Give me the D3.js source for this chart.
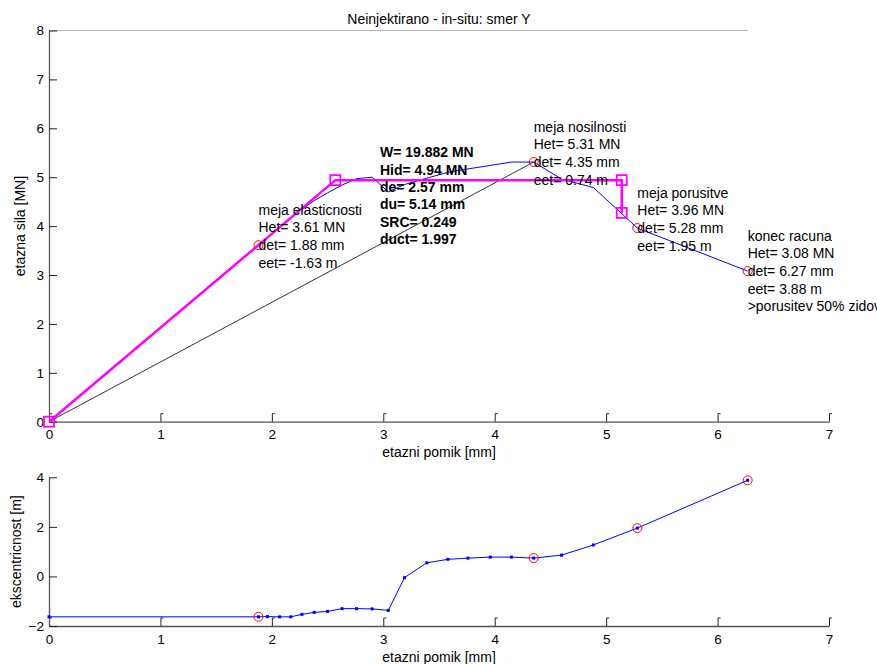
<!DOCTYPE html>
<html>
<head>
<meta charset="utf-8">
<script src="https://cdn.jsdelivr.net/npm/d3@7"></script>
<style>
  html, body { margin: 0; padding: 0; background: #fff; }
  svg { display: block; font-family: "Liberation Sans", Arial, sans-serif; }
</style>
</head>
<body>
<svg id="chart" width="877" height="664"></svg>
<script>
// ---- data ----
const dispX  = [0, 1.88, 1.96, 2.07, 2.17, 2.27, 2.38, 2.50, 2.63, 2.76, 2.90, 3.045, 3.19, 3.39, 3.58, 3.76, 3.96, 4.15, 4.35, 4.60, 4.885, 5.28, 6.27];
const forceY = [0, 3.61, 3.76, 3.97, 4.16, 4.34, 4.52, 4.68, 4.84, 4.97, 5.00, 4.70, 4.85, 4.98, 5.10, 5.17, 5.24, 5.31, 5.31, 4.96, 4.79, 3.96, 3.08];
const eccY   = [-1.63, -1.63, -1.62, -1.63, -1.63, -1.53, -1.45, -1.41, -1.30, -1.30, -1.31, -1.37, -0.05, 0.55, 0.69, 0.74, 0.78, 0.78, 0.74, 0.86, 1.27, 1.95, 3.88];
const bilinX = [0, 2.57, 5.14, 5.14];
const bilinY = [0, 4.94, 4.94, 4.27];
const secantX = [0, 4.35];
const secantY = [0, 5.31];
const keyX   = [1.88, 4.35, 5.28, 6.27];
const keyF   = [3.61, 5.31, 3.96, 3.08];
const keyE   = [-1.63, 0.74, 1.95, 3.88];
const keyLabels = [
  ["meja elasticnosti", "Het= 3.61 MN", "det= 1.88 mm", "eet= -1.63 m", ""],
  ["meja nosilnosti", "Het= 5.31 MN", "det= 4.35 mm", "eet= 0.74 m", ""],
  ["meja porusitve", "Het= 3.96 MN", "det= 5.28 mm", "eet= 1.95 m", ""],
  ["konec racuna", "Het= 3.08 MN", "det= 6.27 mm", "eet= 3.88 m", ">porusitev 50% zidov"]
];
const summaryLines = ["W= 19.882 MN", "Hid= 4.94 MN", "de= 2.57 mm", "du= 5.14 mm", "SRC= 0.249", "duct= 1.997"];
const summaryPos = [2.97, 4.62];
const xTicks = [0, 1, 2, 3, 4, 5, 6, 7];
const yTopTicks = [0, 1, 2, 3, 4, 5, 6, 7, 8];
const yBotTicks = [-2, 0, 2, 4];
const titleText = "Neinjektirano - in-situ: smer Y";
const xLabelText = "etazni pomik [mm]";
const yTopLabel = "etazna sila [MN]";
const yBotLabel = "ekscentricnost [m]";

// ---- scales ----
const svg = d3.select("#chart");
const x = d3.scaleLinear().domain([0, 7]).range([49, 829]);
const yT = d3.scaleLinear().domain([0, 8]).range([421.7, 30.5]);
const yB = d3.scaleLinear().domain([-2, 4]).range([626, 477.3]);
const FS = 14;

function drawAxes(yScale, yTicks, yLabel, labelX) {
  const y0 = yScale.range()[0];
  const xa = svg.append("g").attr("transform", `translate(0,${y0})`)
    .call(d3.axisBottom(x).tickValues(xTicks).tickFormat(d3.format("d"))
      .tickSizeInner(-8).tickSizeOuter(0).tickPadding(8));
  xa.select(".domain").attr("stroke", "#555").attr("stroke-width", 1.3);
  xa.selectAll(".tick line").attr("stroke", "#222");
  xa.selectAll(".tick").append("line")
    .attr("x1", 0).attr("x2", 2.5).attr("y1", -8).attr("y2", -8).attr("stroke", "#222");
  xa.selectAll("text").attr("font-size", 13.5).attr("fill", "#000").attr("font-family", "Liberation Sans, Arial");

  const ya = svg.append("g").attr("transform", `translate(${x(0)},0)`)
    .call(d3.axisLeft(yScale).tickValues(yTicks).tickFormat(d3.format("d"))
      .tickSizeInner(-8).tickSizeOuter(0).tickPadding(5));
  ya.select(".domain").attr("stroke", "#555").attr("stroke-width", 1.3);
  ya.selectAll(".tick line").attr("stroke", "#222");
  ya.selectAll("text").attr("font-size", 13.5).attr("fill", "#000").attr("font-family", "Liberation Sans, Arial");

  const cy = (yScale.range()[0] + yScale.range()[1]) / 2;
  svg.append("text").attr("transform", `translate(${labelX},${cy}) rotate(-90)`)
    .attr("text-anchor", "middle").attr("font-size", FS).text(yLabel);
}

// ---------- top plot ----------
svg.append("line").attr("x1", x(0)).attr("x2", x(d3.max(dispX)))
  .attr("y1", yT(8)).attr("y2", yT(8)).attr("stroke", "#888").attr("stroke-width", 1.2)
  .attr("stroke-dasharray", "1,0.6");
drawAxes(yT, yTopTicks, yTopLabel, 25);

svg.append("text").attr("x", (x(0) + x(7)) / 2).attr("y", 24)
  .attr("text-anchor", "middle").attr("font-size", FS).text(titleText);
svg.append("text").attr("x", (x(0) + x(7)) / 2).attr("y", yT(0) + 35)
  .attr("text-anchor", "middle").attr("font-size", FS).text(xLabelText);

// secant line
svg.append("path").datum(d3.zip(secantX, secantY))
  .attr("d", d3.line().x(d => x(d[0])).y(d => yT(d[1])))
  .attr("fill", "none").attr("stroke", "#000").attr("stroke-width", 0.8);

// capacity curve
svg.append("path").datum(d3.zip(dispX, forceY))
  .attr("d", d3.line().x(d => x(d[0])).y(d => yT(d[1])))
  .attr("fill", "none").attr("stroke", "#0000ff").attr("stroke-width", 1);

// bilinear idealisation
svg.append("path").datum(d3.zip(bilinX, bilinY))
  .attr("d", d3.line().x(d => x(d[0])).y(d => yT(d[1])))
  .attr("fill", "none").attr("stroke", "#ff00ff").attr("stroke-width", 2.5);
svg.selectAll(".sq").data(d3.zip(bilinX, bilinY)).enter().append("rect")
  .attr("x", d => x(d[0]) - 5).attr("y", d => yT(d[1]) - 5)
  .attr("width", 10).attr("height", 10)
  .attr("fill", "none").attr("stroke", "#ff00ff").attr("stroke-width", 1.8);

// key points
svg.selectAll(".kc").data(d3.zip(keyX, keyF)).enter().append("circle")
  .attr("cx", d => x(d[0])).attr("cy", d => yT(d[1])).attr("r", 4.5)
  .attr("fill", "none").attr("stroke", "#ff0000").attr("stroke-width", 1);

// key labels
const LH = 17.7;
keyLabels.forEach((lines, i) => {
  const t = svg.append("text").attr("font-size", FS).attr("fill", "#000");
  lines.forEach((s, j) => {
    t.append("tspan").attr("x", x(keyX[i]))
      .attr("y", yT(keyF[i]) + (j - 2) * LH + 5).text(s);
  });
});

// summary (bold)
const sc = yT(summaryPos[1]);
const st = svg.append("text").attr("font-size", FS).attr("font-weight", "bold").attr("fill", "#000");
summaryLines.forEach((s, j) => {
  st.append("tspan").attr("x", x(summaryPos[0]))
    .attr("y", sc + (j - (summaryLines.length - 1) / 2) * 17.35 + 5).text(s);
});

// ---------- bottom plot ----------
drawAxes(yB, yBotTicks, yBotLabel, 21);
svg.append("text").attr("x", (x(0) + x(7)) / 2).attr("y", yB(-2) + 36)
  .attr("text-anchor", "middle").attr("font-size", FS).text(xLabelText);

svg.append("path").datum(d3.zip(dispX, eccY))
  .attr("d", d3.line().x(d => x(d[0])).y(d => yB(d[1])))
  .attr("fill", "none").attr("stroke", "#0000ff").attr("stroke-width", 1);
svg.selectAll(".em").data(d3.zip(dispX, eccY)).enter().append("rect")
  .attr("x", d => x(d[0]) - 1.5).attr("y", d => yB(d[1]) - 1.5)
  .attr("width", 3).attr("height", 3).attr("fill", "#0000ff");
svg.selectAll(".ec").data(d3.zip(keyX, keyE)).enter().append("circle")
  .attr("cx", d => x(d[0])).attr("cy", d => yB(d[1])).attr("r", 4.5)
  .attr("fill", "none").attr("stroke", "#ff0000").attr("stroke-width", 1);
</script>
</body>
</html>
